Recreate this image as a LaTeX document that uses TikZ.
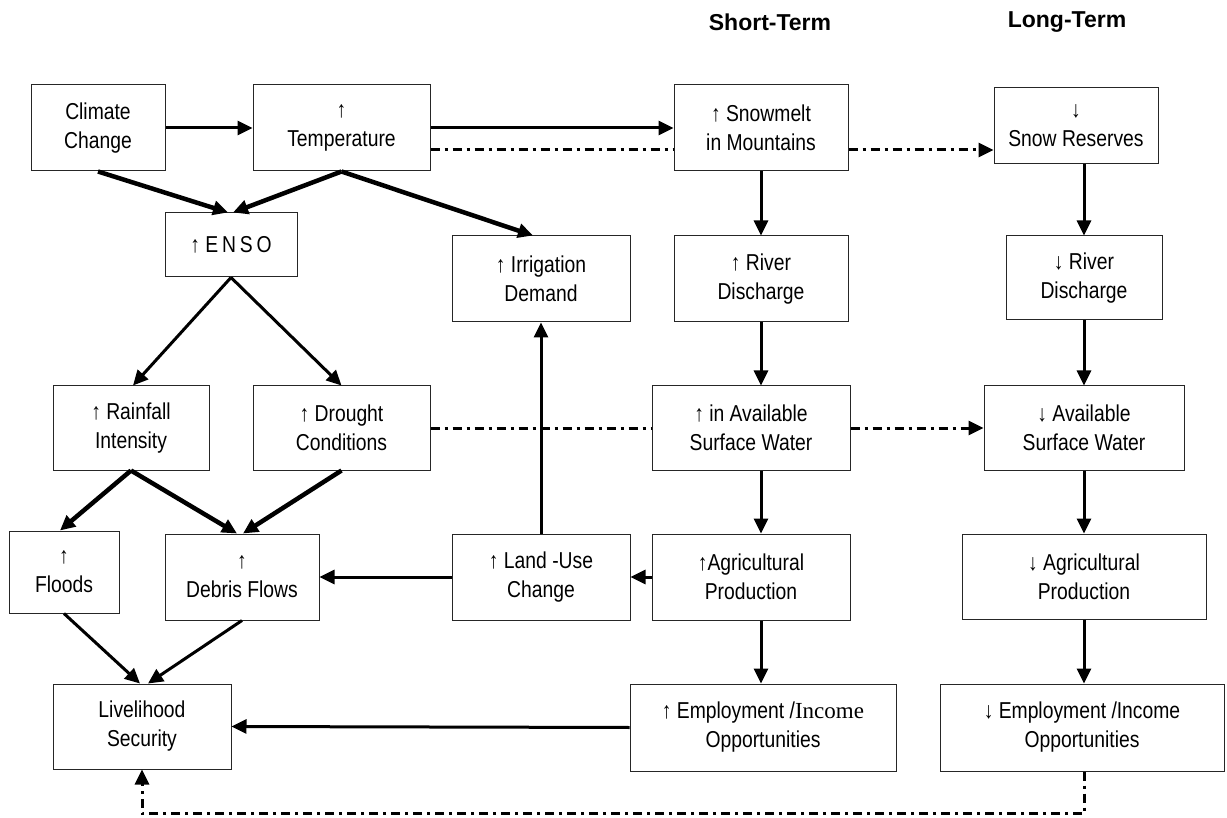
\documentclass[tikz,border=0pt]{standalone}
\usepackage{fontspec}
\setmainfont{Liberation Sans}[FakeStretch=0.84]
\newfontfamily\titlefont{Liberation Sans}
\newfontfamily\timesfont{Liberation Serif}
\usetikzlibrary{arrows.meta}
\begin{document}
\begin{tikzpicture}[x=1pt,y=-1pt,
	box/.style={draw=black!85,line width=1pt,fill=white,align=center,inner sep=0pt,font=\fontsize{23}{29}\selectfont},
	title/.style={font=\titlefont\fontsize{23}{28}\selectfont\bfseries},
	link/.style={line width=3pt,-{Triangle[length=15pt,width=14pt]}},
	heavylink/.style={link,line width=4.5pt},
	dashdot/.style={line width=3pt,dash pattern=on 9pt off 5pt on 3pt off 5pt}]
	\useasboundingbox (0,0) rectangle (1227,818);
	\node[title] (short) at (770,22) {Short-Term};
	\node[title] (long) at (1067,22) {Long-Term};
	\node[box,minimum width=134pt,minimum height=86pt] (clim) at (98,128) {Climate\\Change};
	\node[box,minimum width=177pt,minimum height=86pt] (temp) at (341.5,128) {↑\\Temperature};
	\node[box,minimum width=174pt,minimum height=86pt] (snowm) at (761,128) {↑ Snowmelt\\in Mountains};
	\node[box,minimum width=164pt,minimum height=76pt] (snowr) at (1076,126) {↓\\Snow Reserves};
	\node[box,minimum width=132pt,minimum height=64pt] (enso) at (231,245) {↑ E\,N\,S\,O};
	\node[box,minimum width=178pt,minimum height=86pt] (irrig) at (541,279) {↑ Irrigation\\Demand};
	\node[box,minimum width=174pt,minimum height=86pt] (rivS) at (761,279) {↑ River\\Discharge};
	\node[box,minimum width=156pt,minimum height=84pt] (rivL) at (1084,278) {↓ River\\Discharge};
	\node[box,minimum width=156pt,minimum height=84pt] (rain) at (131,428) {↑ Rainfall\\Intensity};
	\node[box,minimum width=177pt,minimum height=84pt] (drought) at (341.5,428) {↑ Drought\\Conditions};
	\node[box,minimum width=198pt,minimum height=84pt] (aswS) at (751,428) {↑ in Available\\Surface Water};
	\node[box,minimum width=200pt,minimum height=84pt] (aswL) at (1084,428) {↓ Available\\Surface Water};
	\node[box,minimum width=110pt,minimum height=82pt] (floods) at (64,572) {↑\\Floods};
	\node[box,minimum width=154pt,minimum height=86pt] (debris) at (242,577) {↑\\Debris Flows};
	\node[box,minimum width=178pt,minimum height=86pt] (land) at (541,577) {↑ Land -Use\\Change};
	\node[box,minimum width=198pt,minimum height=86pt] (agriS) at (751,577) {↑Agricultural\\Production};
	\node[box,minimum width=244pt,minimum height=85pt] (agriL) at (1084,576.5) {↓ Agricultural\\Production};
	\node[box,minimum width=178pt,minimum height=85pt] (live) at (142,726.5) {Livelihood\\Security};
	\node[box,minimum width=266pt,minimum height=87pt] (empS) at (763,727.5) {↑ Employment /{\timesfont Income}\\Opportunities};
	\node[box,minimum width=284pt,minimum height=87pt] (empL) at (1082,727.5) {↓ Employment /Income\\Opportunities};
	\draw[link] (clim.east) -- (temp.west);
	\draw[link] (temp.east) -- (snowm.west);
	\draw[dashdot] ([yshift=-22pt]temp.east) -- ([yshift=-22pt]temp.east -| snowm.west);
	\draw[dashdot,-{Triangle[length=15pt,width=14pt]}] ([yshift=-22pt]temp.east -| snowm.east) -- ([yshift=-22pt]temp.east -| snowr.west);
	\draw[heavylink] (clim.south) -- ([xshift=-3pt]enso.north);
	\draw[heavylink] (temp.south) -- ([xshift=2pt]enso.north);
	\draw[heavylink] (temp.south) -- ([xshift=-8pt]irrig.north);
	\draw[link] (enso.south) -- ([xshift=2pt]rain.north);
	\draw[link] (enso.south) -- (drought.north);
	\draw[heavylink] (rain.south) -- ([xshift=-4pt]floods.north);
	\draw[heavylink] (rain.south) -- ([xshift=-5pt]debris.north);
	\draw[heavylink] (drought.south) -- ([xshift=1pt]debris.north);
	\draw[link] (floods.south) -- ([xshift=-2pt]live.north);
	\draw[link] (debris.south) -- ([xshift=6pt]live.north);
	\draw[dashdot] (drought.east) -- (aswS.west);
	\draw[dashdot,-{Triangle[length=15pt,width=14pt]}] (aswS.east) -- (aswL.west);
	\draw[link] (land.north) -- (irrig.south);
	\draw[link] (land.west) -- (debris.east);
	\draw[link] (agriS.west) -- (land.east);
	\draw[link] (snowm.south) -- (rivS.north);
	\draw[link] (rivS.south) -- (aswS.north -| rivS);
	\draw[link] (aswS.south -| rivS) -- (agriS.north -| rivS);
	\draw[link] (agriS.south -| rivS) -- (empS.north -| rivS);
	\draw[link] (empS.west) -- (live.east);
	\draw[link] (snowr.south -| rivL) -- (rivL.north);
	\draw[link] (rivL.south) -- (aswL.north);
	\draw[link] (aswL.south) -- (agriL.north);
	\draw[link] (agriL.south) -- (empL.north -| agriL);
	\draw[dashdot,-{Triangle[length=15pt,width=14pt]}] (empL.south -| agriL) -- ++(0,42) -| (live.south);
\end{tikzpicture}
\end{document}
